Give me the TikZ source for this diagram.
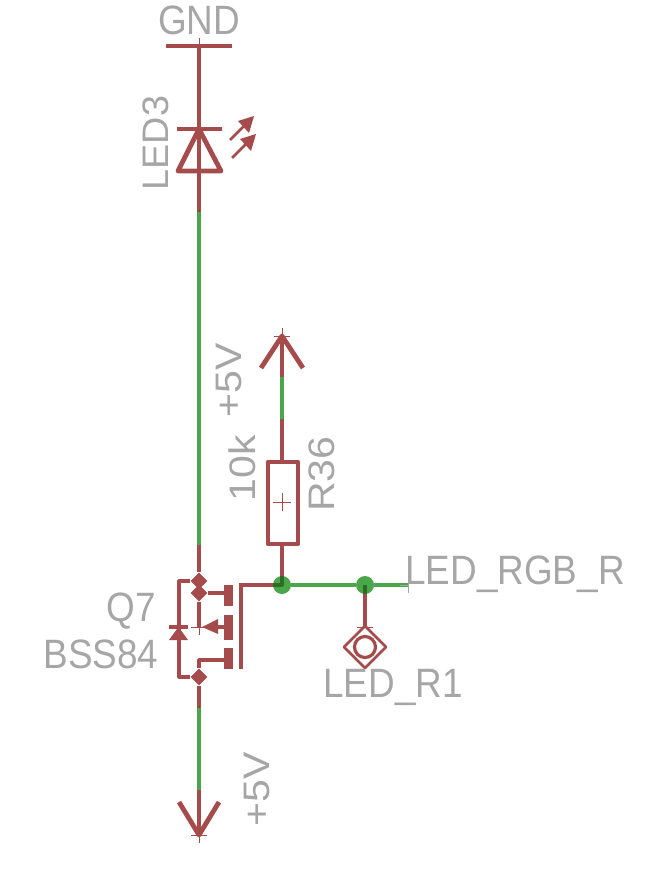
\documentclass[tikz,border=0pt]{standalone}
\usepackage{fontspec}
\setmainfont{Liberation Sans}
\usetikzlibrary{shapes.geometric}
\definecolor{partred}{HTML}{A54B4B}
\definecolor{netgreen}{HTML}{4BA54B}
\definecolor{overlapgreen}{HTML}{2F6B23}
\definecolor{labelgrey}{HTML}{A6A6A6}

\begin{document}
\begin{tikzpicture}[x=1pt,y=-1pt,line join=round]
    \tikzstyle{part}=[draw=partred,line width=3.2pt]
    \tikzstyle{thick part}=[draw=partred,line width=4.8pt]
    \tikzstyle{net}=[draw=netgreen,line width=3.2pt]
    \tikzstyle{origin}=[draw=partred,line width=0.8pt]
    \tikzstyle{junction}=[circle,fill=netgreen,minimum size=18pt,inner sep=0pt]
    \tikzstyle{pin dot}=[diamond,fill=partred,minimum size=17pt,inner sep=0pt]
    \tikzstyle{plate}=[rectangle,fill=partred,minimum width=9pt,inner sep=0pt]
    \tikzstyle{annot}=[text=labelgrey,inner sep=0pt,xscale=0.9,font=\fontsize{41}{41}\selectfont]

    \useasboundingbox (0,0) rectangle (669,872);

    % Wires of the left column
    \coordinate (GND) at (199,46);
    \coordinate (LED-k) at (199,129);
    \coordinate (LED-a) at (199,171);
    \coordinate (LED-end) at (199,212);
    \coordinate (Q-top) at (199,545);
    \coordinate (Q-bot) at (199,708);
    \coordinate (V-wire) at (199,790);
    \coordinate (V-tip) at (199,835);
    \node[pin dot] (D-1) at (199,581) {};
    \node[pin dot] (D-2) at (199,593) {};
    \node[pin dot] (D-3) at (199,677) {};

    % Wires of the right column
    \coordinate (R-tip) at (282,336);
    \coordinate (R-wire) at (282,377);
    \coordinate (R-in) at (282,419);
    \coordinate (R-top) at (282,460);
    \coordinate (R-bot) at (282,545);
    \node[junction] (J-1) at (282,585) {};
    \node[junction] (J-2) at (365,585) {};
    \coordinate (Net-end) at (408,585);
    \coordinate (Pad-top) at (365,627);
    \coordinate (Gate) at (241,585);

    % Green nets
    \draw[net] (LED-end) -- (Q-top);
    \draw[net] (Q-bot) -- (V-wire);
    \draw[net] (R-wire) -- (R-in);
    \draw[net] (J-1) -- (J-2) -- (Net-end);

    % GND symbol and LED
    \draw[thick part] (166,46) -- (232,46);
    \draw[part] (GND) -- (LED-end);
    \draw[thick part] (177,129) -- (222,129);
    \draw[thick part] (LED-k) -- (178,171) -- (221,171) -- cycle;
    \foreach \x / \y in {230/140,232/158} {
        \draw[part,line width=2.8pt] (\x,\y) -- ++(14,-14);
        \fill[partred] (\x+24,\y-24) -- (\x+8,\y-19) -- (\x+19,\y-7) -- cycle;
    }
    \draw[origin] (199,38) -- (GND);

    % Supply arrows
    \draw[part] (R-tip) -- (R-wire);
    \draw[part] (R-in) -- (R-top);
    \draw[thick part] (261,368) -- (R-tip) -- (303,368);
    \draw[origin] (282,328) -- (R-tip);
    \draw[origin] (274,336) -- (290,336);
    \draw[part] (V-wire) -- (V-tip);
    \draw[thick part] (179,802) -- (V-tip) -- (219,802);
    \draw[origin] (199,843) -- (V-tip);
    \draw[origin] (191,835) -- (207,835);

    % Resistor
    \draw[thick part] (268,462) rectangle (298,544);
    \draw[origin] (273,502) -- (291,502);
    \draw[origin] (282,493) -- (282,511);

    % Transistor
    \draw[part] (Q-top) -- (D-1) -- (D-2) -- (199,627);
    \draw[part] (D-3) -- (Q-bot);
    \draw[part] (D-1) -- (179,581) -- (179,677) -- (D-3);
    \draw[part] (D-2) -- (228,593);
    \draw[part] (D-3) -- (199,660) -- (228,660);
    \draw[part] (218,627) -- (228,627);
    \fill[partred] (202,627) -- (218,619) -- (218,634) -- cycle;
    \draw[origin] (191,627) -- (207,627);
    \draw[origin] (199,619) -- (199,635);
    \node[plate,minimum height=21pt] (P-1) at (228.5,595.5) {};
    \node[plate,minimum height=25pt] (P-2) at (228.5,627.5) {};
    \node[plate,minimum height=21pt] (P-3) at (228.5,658.5) {};
    \draw[thick part] (241,583) -- (241,669);
    \draw[part] (Gate) -- (J-1);
    \draw[part] (R-bot) -- (J-1);

    % Body diode
    \draw[part] (169,627) -- (188,627);
    \fill[partred] (178.5,627) -- (169,640) -- (188,640) -- cycle;

    % Pad
    \draw[part] (J-2) -- (Pad-top);
    \draw[part,line width=2.8pt] (365,626) -- (386,647) -- (365,668) -- (344,647) -- cycle;
    \draw[part] (365,647) circle (10.5);
    \draw[origin] (357,627) -- (373,627);

    % Overlap of part and net
    \draw[overlapgreen,line width=3.2pt] (282,576) -- (282,585) -- (273,585);
    \draw[overlapgreen,line width=3.2pt] (365,585) -- (365,594);
    \draw[overlapgreen,line width=1pt] (199,212) -- (199,210);
    \draw[overlapgreen,line width=1pt] (199,708) -- (199,706);
    \draw[labelgrey,line width=0.8pt] (408,577) -- (408,593);
    \draw[labelgrey,line width=0.8pt] (400,585) -- (Net-end);

    % Annotate the parts
    \node[annot] (GND-label) at (199,20) {GND};
    \node[annot,rotate=90,xscale=0.92] (LED-label) at (156,143) {LED3};
    \node[annot,rotate=90] (V1-label) at (229,380) {+5V};
    \node[annot,rotate=90] (V2-label) at (257,789) {+5V};
    \node[annot,rotate=90] (R-value) at (242,468) {10k};
    \node[annot,rotate=90] (R-label) at (322,474) {R36};
    \node[annot] (Q-label) at (131,611) {Q7};
    \node[annot] (Q-value) at (101,654) {BSS84};
    \node[annot] (Net-label) at (515,574) {LED\_RGB\_R};
    \node[annot] (Pad-label) at (393,687) {LED\_R1};
\end{tikzpicture}
\end{document}
